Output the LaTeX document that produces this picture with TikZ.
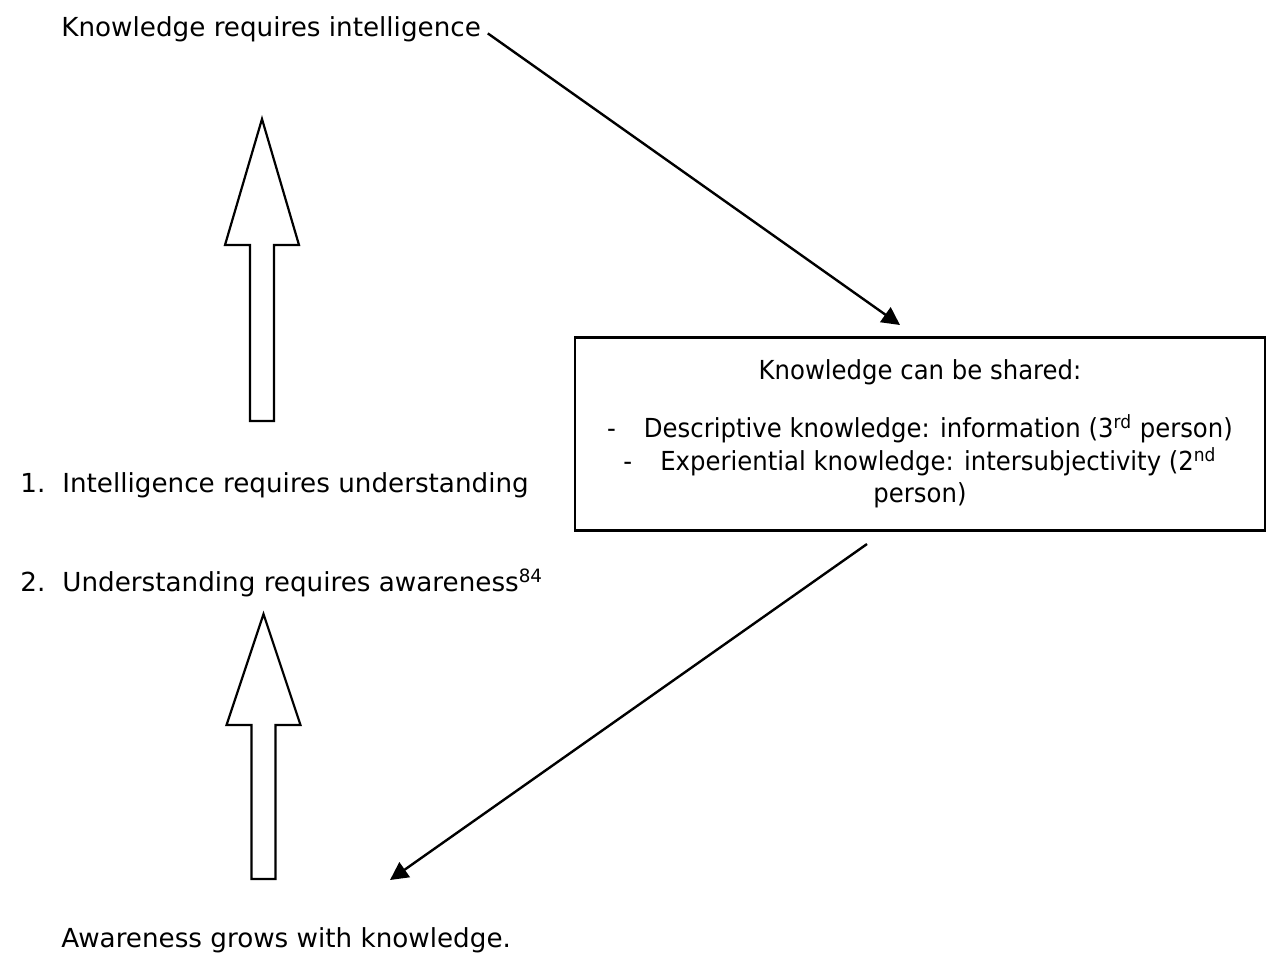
\documentclass[tikz,border=0pt]{standalone}
\usepackage{fontspec}
\setmainfont{DejaVu Sans}
\newfontfamily\boxfont[FakeStretch=0.93]{DejaVu Sans}
\usetikzlibrary{positioning, arrows.meta}
\tikzset{
x=0.5pt, y=-0.5pt, % one unit is one pixel of the page, y runs down
every node/.style={font=\fontsize{13.1}{16.4}\selectfont}, % body text size
plain/.style={anchor=base west, inner sep=0pt}, % loose lines of text
link/.style={line width=1.2pt, -{Triangle[length=9pt,width=9pt]}}, % thin arrows
hollow/.style={line width=1.1pt}, % the two big outlined arrows
sharedbox/.style={draw, line width=1.1pt, minimum width=345pt, minimum height=96.5pt, align=center, inner sep=0pt, font=\boxfont\fontsize{13.1}{16.4}\selectfont},
}
\begin{document}
\begin{tikzpicture}
                \useasboundingbox (0,0) rectangle (1274,954);
                \node[plain] (intel) at (61,36) {Knowledge requires intelligence};
                \node[plain] (step1) at (20,492) {\makebox[21pt][l]{1.}Intelligence requires understanding};
                \node[plain] (step2) at (20,591) {\makebox[21pt][l]{2.}Understanding requires awareness\textsuperscript{84}};
                \node[plain] (aware) at (61,947) {Awareness grows with knowledge.};
                \node[sharedbox] (shared) at (920,434) {Knowledge can be shared:\\[12.5pt]
                    -\hspace{14pt}Descriptive knowledge: information (3\textsuperscript{rd} person)\\
                    -\hspace{14pt}Experiential knowledge: intersubjectivity (2\textsuperscript{nd}\\
                    person)};
                \coordinate (entry) at (900,325);
                \coordinate (exit) at (867,544);
                \coordinate (arrival) at (390,880);
                \draw[link, shorten <=4pt] (intel.east) -- (entry);
                \draw[link] (exit) -- (arrival);
                % big hollow arrows: centre x / bottom / head base / tip
                \foreach \cx/\bot/\base/\tip in {262/421/245/119, 263.5/879/725/614}
                    \draw[hollow] (\cx-12,\bot) -- (\cx-12,\base) -- (\cx-37,\base) -- (\cx,\tip)
                        -- (\cx+37,\base) -- (\cx+12,\base) -- (\cx+12,\bot) -- cycle;
                \end{tikzpicture}
\end{document}
